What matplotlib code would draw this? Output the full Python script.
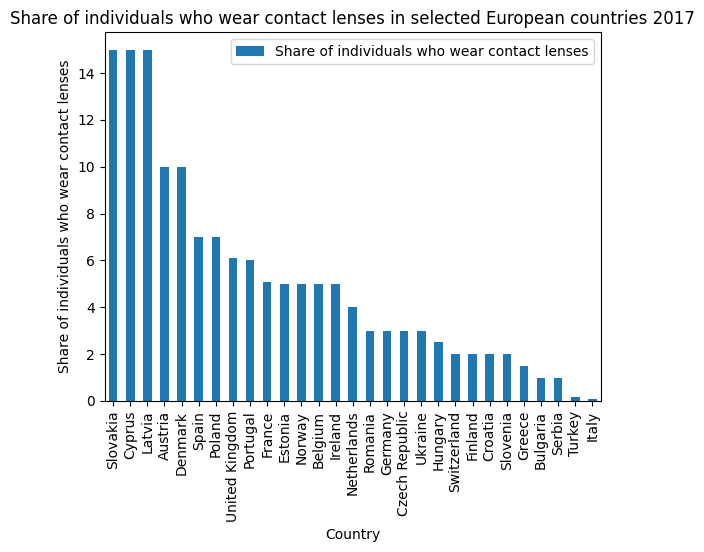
import pandas as pd
import matplotlib
matplotlib.use("Agg")
import matplotlib.pyplot as plt

countries = ["Slovakia", "Cyprus", "Latvia", "Austria", "Denmark", "Spain", "Poland",
             "United Kingdom", "Portugal", "France", "Estonia", "Norway", "Belgium",
             "Ireland", "Netherlands", "Romania", "Germany", "Czech Republic", "Ukraine",
             "Hungary", "Switzerland", "Finland", "Croatia", "Slovenia", "Greece",
             "Bulgaria", "Serbia", "Turkey", "Italy"]
share = [15, 15, 15, 10, 10, 7, 7, 6.1, 6, 5.1, 5, 5, 5, 5, 4, 3, 3, 3, 3, 2.5,
         2, 2, 2, 2, 1.5, 1, 1, 0.17, 0.1]

col = "Share of individuals who wear contact lenses"
df = pd.DataFrame({"Country": countries, col: share}).set_index("Country")

fig, ax = plt.subplots(figsize=(7.04, 5.52), dpi=100)
df.plot.bar(ax=ax, color="#1f77b4")
ax.set_ylabel(col)
ax.set_xlabel("Country")
ax.set_title("Share of individuals who wear contact lenses in selected European countries 2017")
ax.legend(loc="upper right")
fig.subplots_adjust(left=0.1485, right=0.8537, top=0.942, bottom=0.2736)
fig.savefig("out.png", dpi=100)
